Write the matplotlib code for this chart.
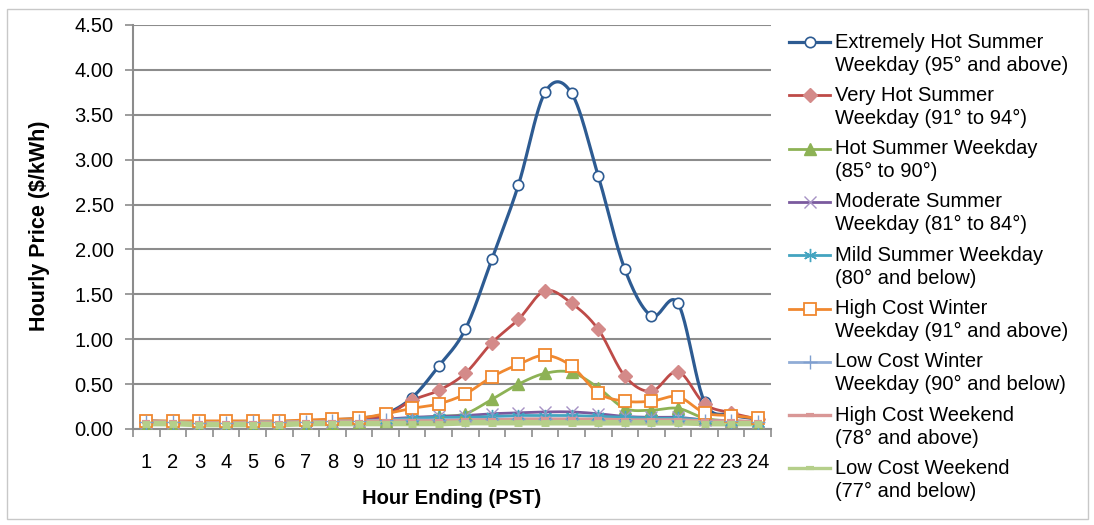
import numpy as np
import matplotlib
matplotlib.use("Agg")
import matplotlib.pyplot as plt
from matplotlib.lines import Line2D
from matplotlib.patches import Rectangle

plt.rcParams['font.family'] = ['Liberation Sans', 'DejaVu Sans']

hours = list(range(1, 25))
hour_labels = [str(h) for h in hours]

extremely_hot = [0.09, 0.08, 0.07, 0.07, 0.08, 0.08, 0.09, 0.10, 0.12, 0.17, 0.35, 0.70,
                 1.11, 1.89, 2.72, 3.75, 3.74, 2.82, 1.78, 1.26, 1.40, 0.30, 0.16, 0.11]
very_hot = [0.08, 0.07, 0.07, 0.07, 0.07, 0.08, 0.08, 0.09, 0.11, 0.15, 0.32, 0.43,
            0.62, 0.96, 1.22, 1.54, 1.40, 1.11, 0.59, 0.42, 0.64, 0.28, 0.18, 0.11]
hot = [0.06, 0.06, 0.05, 0.05, 0.06, 0.06, 0.06, 0.07, 0.08, 0.09, 0.12, 0.14,
       0.17, 0.33, 0.50, 0.62, 0.63, 0.46, 0.23, 0.21, 0.23, 0.12, 0.09, 0.08]
moderate = [0.07, 0.07, 0.06, 0.06, 0.07, 0.07, 0.07, 0.08, 0.09, 0.11, 0.13, 0.14,
            0.15, 0.17, 0.18, 0.19, 0.19, 0.17, 0.14, 0.13, 0.13, 0.10, 0.09, 0.08]
mild = [0.07, 0.07, 0.06, 0.06, 0.06, 0.07, 0.07, 0.08, 0.09, 0.10, 0.12, 0.13,
        0.13, 0.14, 0.15, 0.15, 0.15, 0.14, 0.13, 0.12, 0.12, 0.10, 0.08, 0.07]
high_winter = [0.09, 0.09, 0.09, 0.09, 0.09, 0.09, 0.10, 0.11, 0.12, 0.17, 0.23, 0.28,
               0.39, 0.58, 0.72, 0.82, 0.70, 0.40, 0.31, 0.31, 0.36, 0.18, 0.15, 0.12]
low_winter = [0.08, 0.08, 0.07, 0.07, 0.08, 0.08, 0.08, 0.09, 0.09, 0.10, 0.10, 0.10,
              0.10, 0.11, 0.11, 0.11, 0.11, 0.10, 0.10, 0.10, 0.10, 0.09, 0.09, 0.08]
high_weekend = [0.08, 0.08, 0.07, 0.07, 0.07, 0.07, 0.08, 0.08, 0.08, 0.09, 0.09, 0.09,
                0.10, 0.10, 0.11, 0.11, 0.11, 0.11, 0.10, 0.10, 0.10, 0.09, 0.09, 0.08]
low_weekend = [0.06, 0.06, 0.05, 0.05, 0.05, 0.05, 0.06, 0.06, 0.06, 0.06, 0.06, 0.06,
               0.07, 0.07, 0.07, 0.07, 0.07, 0.07, 0.07, 0.07, 0.07, 0.06, 0.06, 0.06]

labels = [
    "Extremely Hot Summer\nWeekday (95\u00b0 and above)",
    "Very Hot Summer\nWeekday (91\u00b0 to 94\u00b0)",
    "Hot Summer Weekday\n(85\u00b0 to 90\u00b0)",
    "Moderate Summer\nWeekday (81\u00b0 to 84\u00b0)",
    "Mild Summer Weekday\n(80\u00b0 and below)",
    "High Cost Winter\nWeekday (91\u00b0 and above)",
    "Low Cost Winter\nWeekday (90\u00b0 and below)",
    "High Cost Weekend\n(78\u00b0 and above)",
    "Low Cost Weekend\n(77\u00b0 and below)",
]
series = [extremely_hot, very_hot, hot, moderate, mild, high_winter,
          low_winter, high_weekend, low_weekend]

styles = [
    dict(color='#2D5B92', lw=2.3, marker='o', mfc='white', mec='#2D5B92', ms=7.5, mew=1.2),
    dict(color='#BE4B48', lw=2.0, marker='D', mfc='#D48A89', mec='#D48A89', ms=7, mew=1.0),
    dict(color='#8DB255', lw=2.0, marker='^', mfc='#8DB255', mec='#8DB255', ms=8.5, mew=1.0),
    dict(color='#7A5A9E', lw=2.0, marker='x', mfc='none', mec='#A692C4', ms=8.5, mew=1.0),
    dict(color='#43A4C0', lw=2.0, marker=(6, 2, 0), mfc='none', mec='#43A4C0', ms=9.5, mew=1.0),
    dict(color='#F0882F', lw=2.0, marker='s', mfc='white', mec='#F0882F', ms=8.5, mew=1.3),
    dict(color='#90ACD6', lw=2.0, marker='+', mfc='none', mec='#7F9FCF', ms=10, mew=1.0),
    dict(color='#D99796', lw=2.4, marker='_', mfc='#D99796', mec='#D99796', ms=6, mew=3.0),
    dict(color='#B5CF8A', lw=4.0, marker='_', mfc='#B5CF8A', mec='#B5CF8A', ms=6, mew=5.0),
]


def smooth(x, y, n=24):
    x = np.asarray(x, float)
    y = np.asarray(y, float)
    m = np.zeros_like(y)
    m[1:-1] = (y[2:] - y[:-2]) / 2.0
    m[0] = y[1] - y[0]
    m[-1] = y[-1] - y[-2]
    xs, ys = [], []
    for i in range(len(x) - 1):
        t = np.linspace(0, 1, n, endpoint=False)
        h00 = 2 * t**3 - 3 * t**2 + 1
        h10 = t**3 - 2 * t**2 + t
        h01 = -2 * t**3 + 3 * t**2
        h11 = t**3 - t**2
        xs.append(x[i] + t * (x[i + 1] - x[i]))
        ys.append(h00 * y[i] + h10 * m[i] + h01 * y[i + 1] + h11 * m[i + 1])
    xs.append([x[-1]])
    ys.append([y[-1]])
    return np.concatenate(xs), np.concatenate(ys)


W, H = 1094, 525
fig = plt.figure(figsize=(W / 100, H / 100), dpi=100)
fig.patch.set_facecolor('white')
fig.patches.append(Rectangle((7 / W, 1 - 519 / H), (1088 - 7) / W, (519 - 9) / H,
                             transform=fig.transFigure, fill=False,
                             edgecolor='#C8C8C8', lw=1.0))

ax = fig.add_axes([133 / W, 1 - 429 / H, (771 - 133) / W, (429 - 25) / H])

grid_c = '#8C8C8C'
for s, st in zip(series, styles):
    xs, ys = smooth(hours, s)
    ax.plot(xs, ys, color=st['color'], lw=st['lw'], solid_capstyle='round', zorder=3)
    ax.plot(hours, s, ls='none', marker=st['marker'], mfc=st['mfc'], mec=st['mec'],
            ms=st['ms'], mew=st['mew'], zorder=4)

ax.set_xlim(0.5, 24.5)
ax.set_ylim(0, 4.5)
ax.set_yticks(np.arange(0, 4.51, 0.5))
ax.set_yticklabels([f"{v:.2f}" for v in np.arange(0, 4.51, 0.5)])
ax.set_xticks(hours)
ax.set_xticklabels(hour_labels)
ax.set_xticks(np.arange(0.5, 24.6, 1), minor=True)
ax.tick_params(axis='x', which='major', length=0, pad=17, labelsize=14.5, colors='black')
ax.tick_params(axis='x', which='minor', length=6, width=1.2, color=grid_c, direction='out')
ax.tick_params(axis='y', length=6, width=1.2, color=grid_c, labelsize=14.5, pad=8)
for lbl in ax.get_yticklabels() + ax.get_xticklabels():
    lbl.set_color('black')
ax.grid(axis='y', color=grid_c, lw=1.5)
ax.set_axisbelow(True)
for sp in ['top', 'right']:
    ax.spines[sp].set_visible(False)
for sp in ['left', 'bottom']:
    ax.spines[sp].set_color(grid_c)
    ax.spines[sp].set_linewidth(1.5)

fig.text(452 / W, 1 - 498 / H, "Hour Ending (PST)", ha='center', va='center',
         fontsize=14.5, fontweight='bold')
fig.text(40 / W, 1 - 226 / H, "Hourly Price ($/kWh)", ha='center', va='center',
         rotation=90, fontsize=15.5, fontweight='bold')

# legend
lax = fig.add_axes([0, 0, 1, 1], facecolor='none')
lax.set_xlim(0, W)
lax.set_ylim(H, 0)
lax.axis('off')
y0 = 42
step = 53.3
for i, (lab, st) in enumerate(zip(labels, styles)):
    yy = y0 + i * step
    lax.add_line(Line2D([789, 830], [yy, yy], color=st['color'], lw=min(st['lw'], 2.4)))
    lax.add_line(Line2D([809.5], [yy], ls='none', marker=st['marker'], mfc=st['mfc'],
                        mec=st['mec'], ms=st['ms'], mew=min(st['mew'], 3.0)))
    l1, l2 = lab.split('\n')
    lax.text(835, yy, l1, ha='left', va='center', fontsize=14.5)
    lax.text(835, yy + 23, l2, ha='left', va='center', fontsize=14.5)

fig.savefig('out.png', dpi=100)
